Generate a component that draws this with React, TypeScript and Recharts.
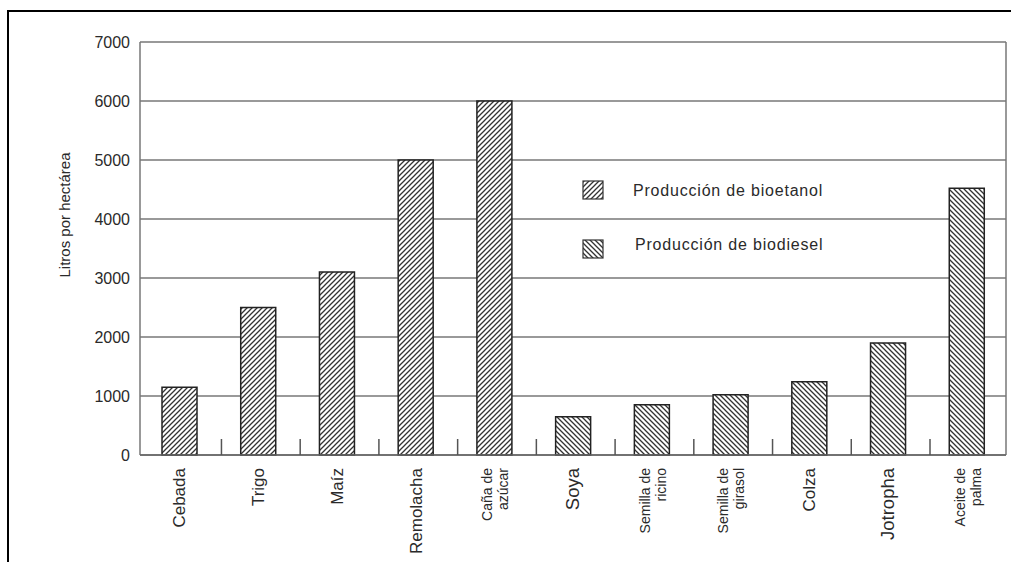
import { BarChart, Bar, Cell, XAxis, YAxis, CartesianGrid } from 'recharts';

const crops = ['Cebada', 'Trigo', 'Maíz', 'Remolacha', 'Caña de\nazúcar', 'Soya', 'Semilla de\nricino', 'Semilla de\ngirasol', 'Colza', 'Jotropha', 'Aceite de\npalma'];
const litros = [1150, 2500, 3100, 5000, 6000, 650, 850, 1020, 1240, 1900, 4520];
const tipo = ['bioetanol', 'bioetanol', 'bioetanol', 'bioetanol', 'bioetanol', 'biodiesel', 'biodiesel', 'biodiesel', 'biodiesel', 'biodiesel', 'biodiesel'];
const yTicks = [0, 1000, 2000, 3000, 4000, 5000, 6000, 7000];

const data = crops.map((name, i) => ({ name, value: litros[i], tipo: tipo[i] }));

const W = 1011;
const H = 562;
const M = { top: 42, right: 5, left: 80, bottom: 77 };
const plotW = W - M.left - M.right;
const band = plotW / crops.length;
const font = '"Liberation Sans", Arial, sans-serif';
const ink = '#2a2a2a';

function Hatches({ suffix = '' }: { suffix?: string }) {
  return (
    <defs>
      <pattern id={'hatchUp' + suffix} patternUnits="userSpaceOnUse" width={5} height={5}>
        <rect width={5} height={5} fill="#fff" />
        <path d="M-1,1 L1,-1 M0,5 L5,0 M4,6 L6,4" stroke="#333" strokeWidth={1.3} />
      </pattern>
      <pattern id={'hatchDown' + suffix} patternUnits="userSpaceOnUse" width={5} height={5}>
        <rect width={5} height={5} fill="#fff" />
        <path d="M-1,4 L1,6 M0,0 L5,5 M4,-1 L6,1" stroke="#333" strokeWidth={1.3} />
      </pattern>
    </defs>
  );
}

function CropTick(props: any) {
  const { x, y, payload, index } = props;
  const lines: string[] = String(payload.value).split('\n');
  const top = y + 13;
  const boundary = x + band / 2;
  let size = 17;
  if (lines.length > 1) size = 14;
  if (payload.value === 'Soya' || payload.value === 'Jotropha') size = 18.5;
  return (
    <g>
      {index < crops.length - 1 && (
        <line x1={boundary} x2={boundary} y1={y - 16} y2={y} stroke="#555" strokeWidth={1.5} />
      )}
      {lines.map((line, i) => {
        const bx = lines.length > 1 ? x - 2 + i * 16 : x + 6;
        return (
          <text key={i} x={bx} y={top} transform={`rotate(-90, ${bx}, ${top})`} textAnchor="end" fontSize={size} fill={ink} fontFamily={font}>
            {line}
          </text>
        );
      })}
    </g>
  );
}

function Legend() {
  return (
    <svg width={W} height={H} style={{ position: 'absolute', left: 0, top: 0, pointerEvents: 'none' }}>
      <Hatches suffix="L" />
      <rect x={583} y={181} width={20} height={18} fill="url(#hatchUpL)" stroke="#333" strokeWidth={1.2} />
      <text x={633} y={196} fontSize={16} letterSpacing={0.8} fill={ink} fontFamily={font}>Producción de bioetanol</text>
      <rect x={583} y={240} width={20} height={18} fill="url(#hatchDownL)" stroke="#333" strokeWidth={1.2} />
      <text x={635} y={250} fontSize={16} letterSpacing={0.8} fill={ink} fontFamily={font}>Producción de biodiesel</text>
      <text x={0} y={0} transform="translate(70, 215) rotate(-90)" textAnchor="middle" fontSize={15} fill={ink} fontFamily={font}>Litros por hectárea</text>
    </svg>
  );
}

export default function App() {
  return (
    <div style={{ position: 'absolute', left: 0, top: 0, width: W, height: H, background: '#fff', overflow: 'hidden' }}>
      <div style={{ position: 'absolute', left: 7, top: 10, width: W, height: H, borderLeft: '2px solid #000', borderTop: '2px solid #000' }} />
      <BarChart width={W} height={H} data={data} margin={M}>
        <Hatches />
        <CartesianGrid
          stroke="#777"
          strokeWidth={1.5}
          verticalCoordinatesGenerator={({ offset }: any) => [offset.left, offset.left + offset.width]}
        />
        <XAxis
          dataKey="name"
          interval={0}
          height={30}
          tickLine={false}
          tickSize={0}
          tickMargin={0}
          axisLine={{ stroke: '#666', strokeWidth: 1.5 }}
          tick={<CropTick />}
        />
        <YAxis
          domain={[0, 7000]}
          ticks={yTicks}
          width={60}
          axisLine={false}
          tickLine={false}
          tickMargin={4}
          tick={{ fill: ink, fontSize: 16, fontFamily: font }}
        />
        <Bar dataKey="value" barSize={35} stroke="#222" strokeWidth={1.5} isAnimationActive={false}>
          {data.map((d) => (
            <Cell key={d.name} fill={d.tipo === 'bioetanol' ? 'url(#hatchUp)' : 'url(#hatchDown)'} />
          ))}
        </Bar>
      </BarChart>
      <Legend />
    </div>
  );
}
